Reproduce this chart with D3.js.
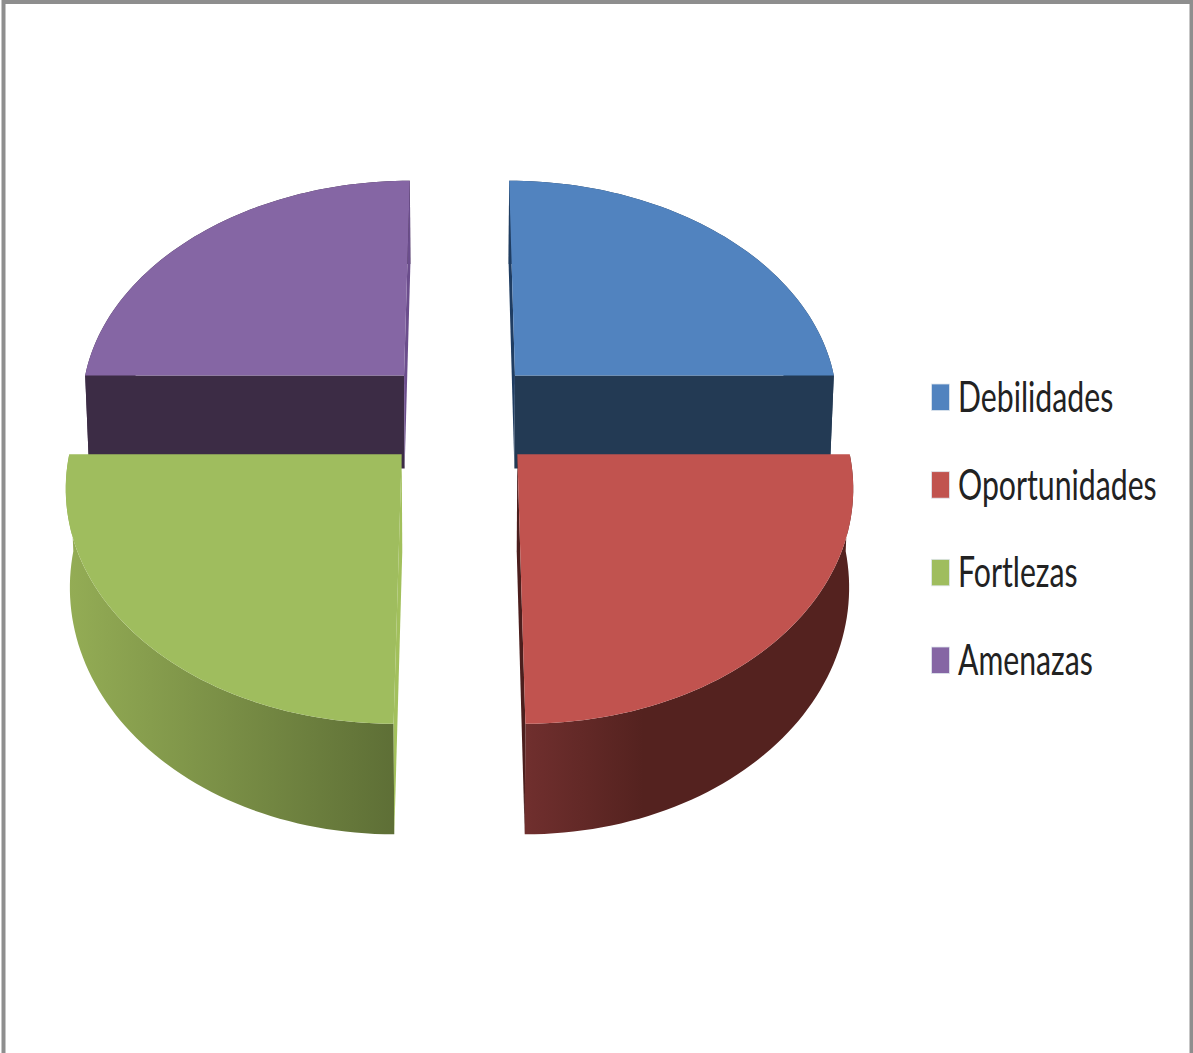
<!DOCTYPE html>
<html>
<head>
<meta charset="utf-8">
<script src="https://cdn.jsdelivr.net/npm/d3@7/dist/d3.min.js"></script>
<style>
html, body { margin: 0; padding: 0; background: #fff; overflow: hidden; }
svg { display: block; }
</style>
</head>
<body>
<svg id="chart" width="1193" height="1053"></svg>
<script>
// Series of the exploded 3D pie
const categories = ["Debilidades", "Oportunidades", "Fortlezas", "Amenazas"];
const values = [25, 25, 25, 25];

// Palette per slice
const topColors = ["#5183bf", "#c1534f", "#9fbd5e", "#8566a4"];
const wallColors = ["#233a54", "#54221f", "#5e6f36", "#3c2c45"];
const wallStartColors = ["#233a54", "#702f2e", "#94ad55", "#3c2c45"];
const innerColors = ["#1f3d62", "#4c1e1d", "#a2c05c", "#6b4d8c"];
const shadeSpan = [1, 0.36, 1, 1];

const svg = d3.select("#chart");
const defs = svg.append("defs");

// Perspective camera: the disc lies on a plane receding toward a horizon above the page
const cam = {
  cx: 459.5, scale: 325.5, tilt: 0.12, horizon: -1475, height: 1889,
  thickness: 95, taper: 0.00011, explode: 0.246
};

function project(X, Y, depth) {
  const w = 1 - cam.tilt * Y;
  const s = cam.scale / w * (1 - cam.taper * depth);
  return [cam.cx + X * s, cam.horizon + (cam.height + depth) / w];
}

const pie = d3.pie().sort(null).value(d => d)(values);
const line = d3.line();

function sliceGeometry(arc) {
  const mid = (arc.startAngle + arc.endAngle) / 2;
  const ox = Math.sin(mid) * cam.explode;
  const oy = -Math.cos(mid) * cam.explode;
  const steps = d3.range(0, 61).map(i => arc.startAngle + (arc.endAngle - arc.startAngle) * i / 60);
  const rim = depth => steps.map(t => project(ox + Math.sin(t), oy - Math.cos(t), depth));
  const apex = depth => project(ox, oy, depth);
  return { rim, apex, front: oy > 0 };
}

// Horizontal shading along the curved outer walls
pie.forEach((arc, i) => {
  const g = sliceGeometry(arc);
  const [x0, x1] = d3.extent(g.rim(0), p => p[0]);
  const grad = defs.append("linearGradient")
    .attr("id", "wall-" + i)
    .attr("gradientUnits", "userSpaceOnUse")
    .attr("x1", x0).attr("x2", x0 + (x1 - x0) * shadeSpan[i])
    .attr("y1", 0).attr("y2", 0);
  grad.append("stop").attr("offset", 0).attr("stop-color", wallStartColors[i]);
  grad.append("stop").attr("offset", 1).attr("stop-color", wallColors[i]);
});

// Frame around the chart area
svg.append("rect")
  .attr("x", 3.5).attr("y", 2).attr("width", 1188).attr("height", 1060)
  .attr("fill", "#fff").attr("stroke", "#8e8e8e").attr("stroke-width", 4);

// Back slices first, then the front ones
const paintOrder = [3, 0, 2, 1];
paintOrder.forEach(i => {
  const arc = pie[i];
  const geo = sliceGeometry(arc);
  const top = geo.rim(0);
  const bottom = geo.rim(cam.thickness);
  const a0 = geo.apex(0);
  const a1 = geo.apex(cam.thickness);
  const group = svg.append("g").attr("class", "slice").datum(categories[i]);

  // Curved outer wall
  group.append("path")
    .attr("d", line(top.concat(bottom.slice().reverse())) + "Z")
    .attr("fill", `url(#wall-${i})`);

  // Flat cut faces; the horizontal cut of a front slice faces away and stays hidden
  const ends = [[top[0], bottom[0]], [top[top.length - 1], bottom[bottom.length - 1]]];
  ends.forEach(([t, b]) => {
    const horizontalCut = Math.abs(t[1] - a0[1]) < 1;
    if (horizontalCut && geo.front) return;
    group.append("path")
      .attr("d", line([a0, t, b, a1]) + "Z")
      .attr("fill", horizontalCut ? wallColors[i] : innerColors[i]);
  });

  // Top face
  group.append("path")
    .attr("d", line([a0].concat(top)) + "Z")
    .attr("fill", topColors[i]);
});

// Legend
const legendY = d3.scalePoint().domain(categories).range([412, 675]);
const legend = svg.append("g").attr("class", "legend");
const rows = legend.selectAll("g").data(categories).join("g")
  .attr("transform", d => `translate(0,${legendY(d)})`);
rows.append("rect")
  .attr("x", 931.5).attr("y", -28).attr("width", 18).attr("height", 26.5)
  .attr("fill", (d, i) => topColors[i])
  .attr("stroke", "#dfe6ee").attr("stroke-width", 0.8);
rows.append("text")
  .attr("transform", "translate(958,0) scale(0.72,1)")
  .attr("font-family", "Lato, 'Open Sans', sans-serif")
  .attr("font-size", 42)
  .attr("fill", "#222")
  .text(d => d);
</script>
</body>
</html>
